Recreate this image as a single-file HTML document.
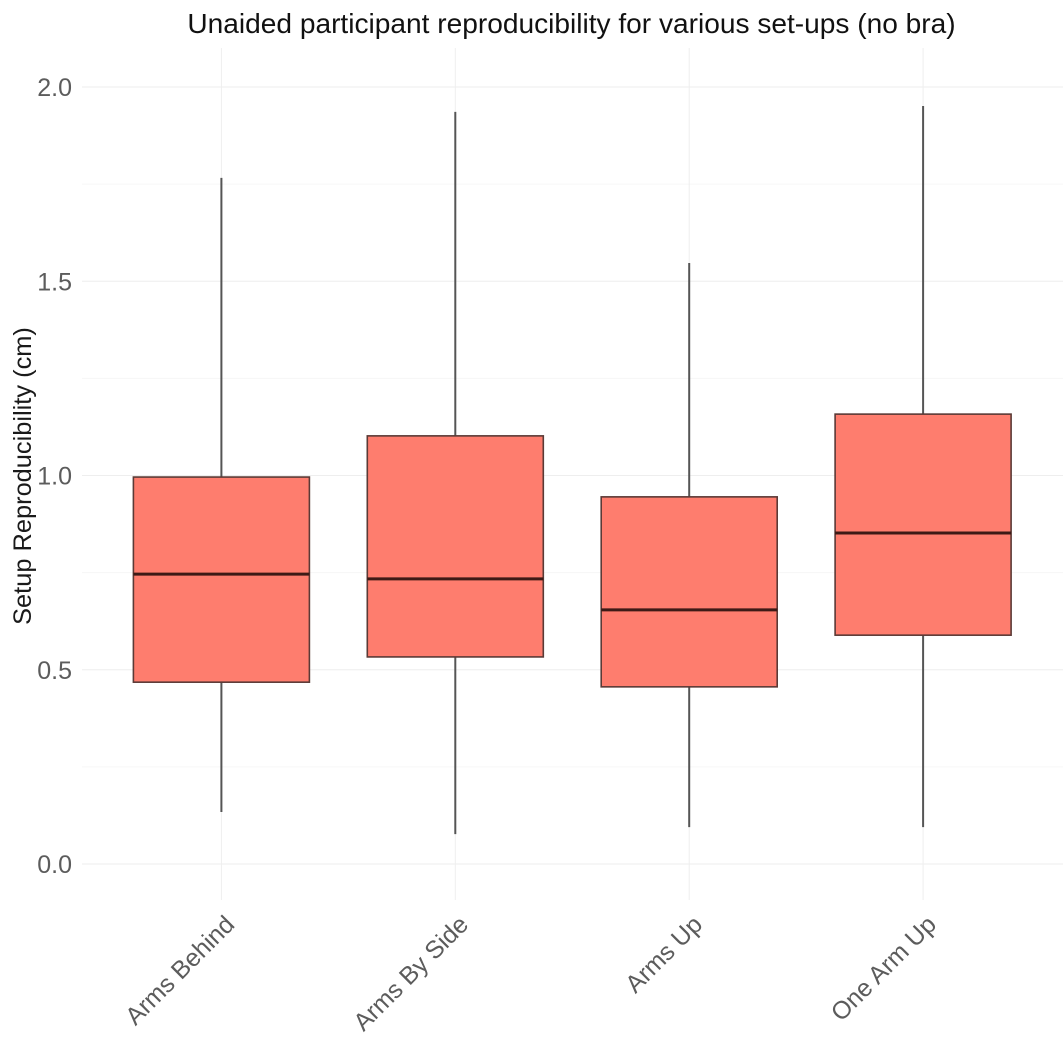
<!DOCTYPE html>
<html lang="en">
<head>
<meta charset="utf-8">
<title>Unaided participant reproducibility</title>
<style>
html,body{margin:0;padding:0;background:#fff;}
svg{display:block;font-family:"Liberation Sans",Arial,sans-serif;}
</style>
</head>
<body>
<svg id="chart" xmlns="http://www.w3.org/2000/svg" width="1063" height="1044" viewBox="0 0 1063 1044">
<rect x="0" y="0" width="1063" height="1044" fill="#ffffff"/>
<text x="571.5" y="33" font-size="28.1" fill="#111111" text-anchor="middle">Unaided participant reproducibility for various set-ups (no bra)</text>
<text transform="translate(31,476) rotate(-90)" font-size="25.4" fill="#1a1a1a" text-anchor="middle">Setup Reproducibility (cm)</text>
<g id="grid"></g>
<g id="yticks"></g>
<g id="xticks"></g>
<g id="boxes"></g>
</svg>
<script>
var categories = ["Arms Behind", "Arms By Side", "Arms Up", "One Arm Up"];
var whiskerLow = [0.134, 0.077, 0.095, 0.095];
var q1 = [0.468, 0.533, 0.456, 0.589];
var median = [0.746, 0.734, 0.654, 0.852];
var q3 = [0.996, 1.102, 0.945, 1.158];
var whiskerHigh = [1.766, 1.936, 1.547, 1.951];
var yMajor = [0, 0.5, 1, 1.5, 2];
var yMinor = [0.25, 0.75, 1.25, 1.75];
var yTickLabels = ["0.0", "0.5", "1.0", "1.5", "2.0"];

var NS = "http://www.w3.org/2000/svg";
function y(v) { return 864 - v * 388.5; }
function x(i) { return 221.4 + i * 233.9; }
var boxW = 176;
function mk(parent, tag, attrs) {
  var el = document.createElementNS(NS, tag);
  for (var k in attrs) { el.setAttribute(k, attrs[k]); }
  parent.appendChild(el);
  return el;
}
var grid = document.getElementById("grid");
var yt = document.getElementById("yticks");
var xt = document.getElementById("xticks");
var boxes = document.getElementById("boxes");

yMinor.forEach(function (v) {
  var l = mk(grid, "line", {x1: 82, x2: 1063, y1: y(v), y2: y(v), stroke: "#f6f6f6", "stroke-width": 1});
  
  
});
yMajor.forEach(function (v, i) {
  var l = mk(grid, "line", {x1: 82, x2: 1063, y1: y(v), y2: y(v), stroke: "#eeeeee", "stroke-width": 1});
  
  
  var t = mk(yt, "text", {x: 72, y: y(v) + 9, "font-size": 25, fill: "#5c5c5c", "text-anchor": "end"});
  t.textContent = yTickLabels[i];
  
  
});
categories.forEach(function (c, i) {
  var cx = x(i);
  var l = mk(grid, "line", {x1: cx, x2: cx, y1: 48, y2: 900, stroke: "#eeeeee", "stroke-width": 1});
  
  
  var t = mk(xt, "text", {transform: "translate(" + (cx + 14.5) + ",926) rotate(-45)", "font-size": 24.8, fill: "#5c5c5c", "text-anchor": "end"});
  t.textContent = c;
  
  

  var g = mk(boxes, "g", {});
  
  
  var w1 = mk(g, "line", {x1: cx, x2: cx, y1: y(whiskerHigh[i]), y2: y(q3[i]), stroke: "#555555", "stroke-width": 2});
  
  
  var w2 = mk(g, "line", {x1: cx, x2: cx, y1: y(q1[i]), y2: y(whiskerLow[i]), stroke: "#555555", "stroke-width": 2});
  
  
  var r = mk(g, "rect", {x: cx - boxW / 2, y: y(q3[i]), width: boxW, height: y(q1[i]) - y(q3[i]), fill: "#fe7d6e", stroke: "#5b3a36", "stroke-width": 1.6});
  
  
  var m = mk(g, "line", {x1: cx - boxW / 2, x2: cx + boxW / 2, y1: y(median[i]), y2: y(median[i]), stroke: "#3d1a16", "stroke-width": 3});
  
  
});
</script>
</body>
</html>
